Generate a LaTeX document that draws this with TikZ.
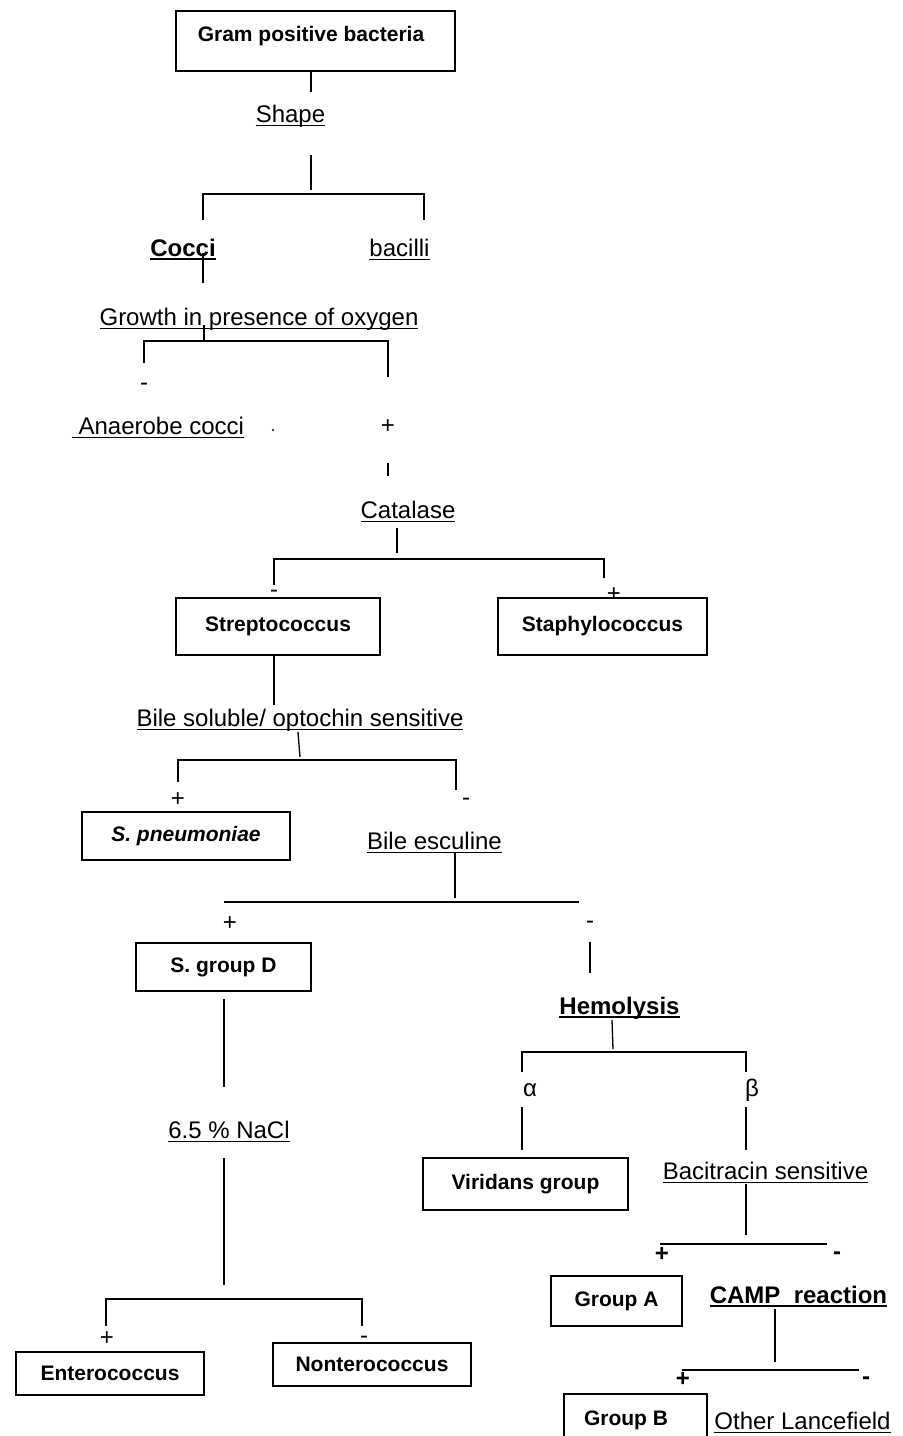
\documentclass[tikz,border=0pt]{standalone}
\usepackage{fontspec}
\setmainfont{Liberation Sans}
\newcommand\myul[1]{\setbox0\hbox{#1}\rlap{\rule[-2pt]{\wd0}{0.65pt}}\box0}
\newcommand\myulb[1]{\setbox0\hbox{#1}\rlap{\rule[-2.2pt]{\wd0}{1pt}}\box0}
\begin{document}
\begin{tikzpicture}[x=0.5pt,y=-0.5pt,line width=0.65pt,
  box/.style={draw,line width=0.75pt,inner sep=0pt,font=\fontsize{10.5}{12}\selectfont\bfseries},
  boxline/.style={line width=0.75pt},
  boxtxt/.style={anchor=base,inner sep=0pt,font=\fontsize{10.5}{12}\selectfont\bfseries},
  txt/.style={anchor=base,inner sep=0pt,font=\fontsize{12}{14}\selectfont},
  btxt/.style={anchor=base,inner sep=0pt,font=\fontsize{12}{14}\selectfont\bfseries}]
\useasboundingbox (0,0) rectangle (903,1436);

% boxes
\node[box,minimum width=139.5pt,minimum height=30pt] (gpb) at (315.5,41) {};
\node[boxtxt] (gpbt) at (311,41.5) {Gram positive bacteria};
\node[box,minimum width=102pt,minimum height=28.5pt] (strep) at (278,626.5) {Streptococcus};
\node[box,minimum width=104.5pt,minimum height=28.5pt] (staph) at (602.5,626.5) {Staphylococcus};
\node[box,minimum width=104pt,minimum height=24pt] (pneu) at (186,836) {\itshape S. pneumoniae};
\node[box,minimum width=87.5pt,minimum height=24pt] (sgd) at (223.5,967) {S. group D};
\node[box,minimum width=102.5pt,minimum height=26pt] (vir) at (525.5,1184) {Viridans group};
\node[box,minimum width=65.5pt,minimum height=25pt] (ga) at (616.5,1301) {Group A};
\node[box,minimum width=94pt,minimum height=21.5pt] (ent) at (110,1373.5) {Enterococcus};
\node[box,minimum width=99pt,minimum height=21.5pt] (nonent) at (372,1364.5) {Nonterococcus};
\node[boxtxt] (gb) at (626,1425) {Group B};
\coordinate (gbbl) at (564,1436);
\coordinate (gbtl) at (564,1394);
\coordinate (gbtr) at (707,1394);
\coordinate (gbbr) at (707,1436);
\draw[boxline] (gbbl) -- (gbtl) -- (gbtr) -- (gbbr);

% texts
\node[txt] (shape) at (290.5,122) {\myul{Shape}};
\node[btxt] (cocci) at (183,256) {\myulb{Cocci}};
\node[txt] (bac) at (399.5,256) {\myul{bacilli}};
\node[txt] (growth) at (259,325) {\myul{Growth in presence of oxygen}};
\node[txt] (sgm1) at (144,390) {-};
\node[txt] (anae) at (158,434) {\myul{\ Anaerobe cocci}};
\node[txt] (sgp1) at (388,433) {+};
\node[txt] (cat) at (408,518) {\myul{Catalase}};
\node[txt] (sgm2) at (274,597) {-};
\node[txt] (sgp2) at (614,601) {+};
\node[txt] (bile) at (300,726) {\myul{Bile soluble/ optochin sensitive}};
\node[txt] (sgp3) at (178,806) {+};
\node[txt] (sgm3) at (466,805) {-};
\node[txt] (besc) at (434.5,849) {\myul{Bile esculine}};
\node[txt] (sgp4) at (230,930) {+};
\node[txt] (sgm4) at (590,928) {-};
\node[btxt] (hemo) at (619.5,1014) {\myulb{Hemolysis}};
\node[txt] (alpha) at (530,1096) {α};
\node[txt] (beta) at (752,1096) {β};
\node[txt] (nacl) at (229,1138) {\myul{6.5 \% NaCl}};
\node[txt] (baci) at (765.5,1179) {\myul{Bacitracin sensitive}};
\node[btxt] (sgp5) at (662,1261) {+};
\node[btxt] (sgm5) at (837,1259) {-};
\node[btxt] (camp) at (798.5,1303) {\myulb{CAMP\ \ reaction}};
\node[btxt] (sgp6) at (683,1386) {+};
\node[btxt] (sgm6) at (866,1384) {-};
\node[txt] (other) at (802.5,1429) {\myul{Other Lancefield}};
\node[txt] (sgp7) at (107,1345) {+};
\node[txt] (sgm7) at (364,1343) {-};

% stray dot
\coordinate (dot) at (273,430);
\fill (dot) circle (0.6pt);

% connectors
\coordinate (a1) at (311,92);
\draw (a1 |- gpb.south) -- (a1);
\coordinate (a2) at (311,155); \coordinate (a3) at (311,190);
\draw (a2) -- (a3);
\coordinate (b1) at (203,220); \coordinate (b2) at (203,194);
\coordinate (b3) at (424,194); \coordinate (b4) at (424,220);
\draw (b1) -- (b2) -- (b3) -- (b4);
\coordinate (c1) at (203,253); \coordinate (c2) at (203,283);
\draw (c1) -- (c2);
\coordinate (d1) at (204,325); \coordinate (d2) at (204,341);
\draw (d1) -- (d2);
\coordinate (e1) at (144,363); \coordinate (e2) at (144,341);
\coordinate (e3) at (388,341); \coordinate (e4) at (388,377);
\draw (e1) -- (e2) -- (e3) -- (e4);
\coordinate (f1) at (388,463); \coordinate (f2) at (388,476);
\draw (f1) -- (f2);
\coordinate (g1) at (397,528); \coordinate (g2) at (397,553);
\draw (g1) -- (g2);
\coordinate (h1) at (274,585); \coordinate (h2) at (274,559);
\coordinate (h3) at (604,559); \coordinate (h4) at (604,578);
\draw (h1) -- (h2) -- (h3) -- (h4);
\coordinate (i1) at (274,705);
\draw (i1 |- strep.south) -- (i1);
\coordinate (j1) at (298,732); \coordinate (j2) at (300,757);
\draw (j1) -- (j2);
\coordinate (k1) at (178,782); \coordinate (k2) at (178,760);
\coordinate (k3) at (456,760); \coordinate (k4) at (456,790);
\draw (k1) -- (k2) -- (k3) -- (k4);
\coordinate (l1) at (455,852); \coordinate (l2) at (455,898);
\draw (l1) -- (l2);
\coordinate (n1) at (224,902); \coordinate (n2) at (579,902);
\draw (n1) -- (n2);
\coordinate (o1) at (590,942); \coordinate (o2) at (590,973);
\draw (o1) -- (o2);
\coordinate (q1) at (224,999); \coordinate (q2) at (224,1087);
\draw (q1) -- (q2);
\coordinate (r1) at (612,1020); \coordinate (r2) at (613,1049);
\draw (r1) -- (r2);
\coordinate (s1) at (522,1072); \coordinate (s2) at (522,1052);
\coordinate (s3) at (746,1052); \coordinate (s4) at (746,1072);
\draw (s1) -- (s2) -- (s3) -- (s4);
\coordinate (t1) at (522,1107); \coordinate (t2) at (522,1150);
\draw (t1) -- (t2);
\coordinate (t3) at (746,1107); \coordinate (t4) at (746,1150);
\draw (t3) -- (t4);
\coordinate (u1) at (224,1158); \coordinate (u2) at (224,1285);
\draw (u1) -- (u2);
\coordinate (v1) at (106,1326); \coordinate (v2) at (106,1299);
\coordinate (v3) at (362,1299); \coordinate (v4) at (362,1326);
\draw (v1) -- (v2) -- (v3) -- (v4);
\coordinate (w1) at (746,1184); \coordinate (w2) at (746,1235);
\draw (w1) -- (w2);
\coordinate (x1) at (660,1244); \coordinate (x2) at (827,1244);
\draw (x1) -- (x2);
\coordinate (y1) at (775,1309); \coordinate (y2) at (775,1362);
\draw (y1) -- (y2);
\coordinate (z1) at (682,1370); \coordinate (z2) at (859,1370);
\draw (z1) -- (z2);
\end{tikzpicture}
\end{document}
